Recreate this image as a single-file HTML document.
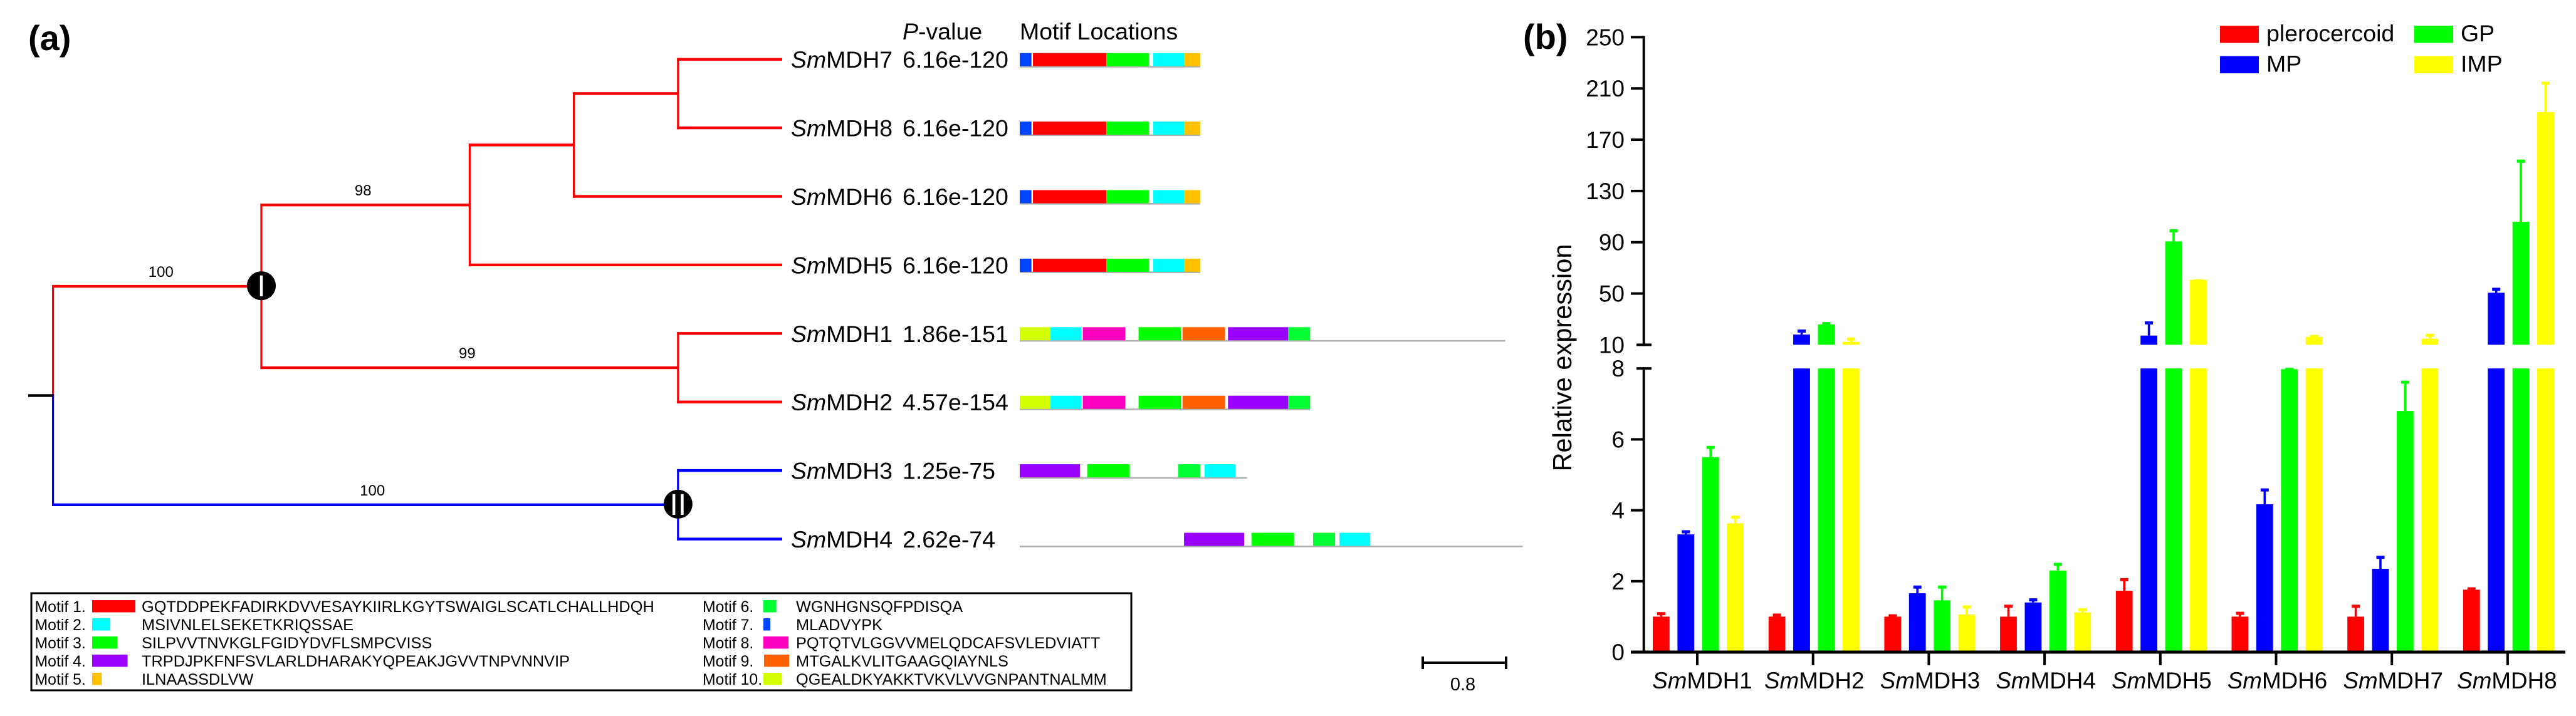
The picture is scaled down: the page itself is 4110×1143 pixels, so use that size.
<!DOCTYPE html>
<html lang="en">
<head>
<meta charset="utf-8">
<title>SmMDH phylogeny, motifs and relative expression</title>
<style>
html,body{margin:0;padding:0;background:#fff;}
svg{display:block;font-family:"Liberation Sans",sans-serif;}
</style>
</head>
<body>
<svg id="fig" xmlns="http://www.w3.org/2000/svg" width="4110" height="1143" viewBox="0 0 4110 1143">
  <rect x="0" y="0" width="4110" height="1143" fill="#fff"/>
  <text x="45" y="80" font-size="56" font-weight="bold">(a)</text>
  <text x="2430" y="78" font-size="56" font-weight="bold">(b)</text>
  <text x="1440" y="63" font-size="37.5"><tspan font-style="italic">P</tspan>-value</text>
  <text x="1627" y="63" font-size="37.5">Motif Locations</text>
  <rect x="50" y="947" width="1755" height="155" fill="none" stroke="#000" stroke-width="3"/>
  <g>
    <rect x="2270" y="1056" width="134" height="4" fill="#000"/>
    <rect x="2268" y="1048" width="4" height="20" fill="#000"/>
    <rect x="2401" y="1048" width="4" height="20" fill="#000"/>
    <text x="2334" y="1102" font-size="29" text-anchor="middle">0.8</text>
  </g>
  <text transform="translate(2507 571) rotate(-90)" font-size="41.6" text-anchor="middle">Relative expression</text>
  <g id="tree"></g>
  <g id="motifs"></g>
  <g id="motifLegend"></g>
  <g id="chart"></g>
  <g id="legend"></g>
</svg>
<script>
// ---------- Phylogeny data ----------
const taxonOrder = ['SmMDH7','SmMDH8','SmMDH6','SmMDH5','SmMDH1','SmMDH2','SmMDH3','SmMDH4'];
const taxonNumbers = ['7','8','6','5','1','2','3','4'];
const pValues = ['6.16e-120','6.16e-120','6.16e-120','6.16e-120','1.86e-151','4.57e-154','1.25e-75','2.62e-74'];
const treeData = {depth:0, kids:[
  {depth:2, color:'#ff0000', support:'100', nudge:6, mark:'I', kids:[
    {depth:4, support:'98', nudge:-4, kids:[
      {depth:5, kids:[
        {depth:6, kids:[{leaf:0},{leaf:1}]},
        {leaf:2}]},
      {leaf:3}]},
    {depth:6, support:'99', nudge:-4, kids:[{leaf:4},{leaf:5}]}]},
  {depth:6, color:'#0000ff', support:'100', nudge:11, mark:'II', kids:[{leaf:6},{leaf:7}]}
]};
const leafDepth = 7;

// ---------- Motif data (positions in residues) ----------
const motifColors = ['#ff0000','#00ffff','#00ff00','#9900ff','#ffc000','#00ff33','#0044ff','#ff00c0','#ff6000','#d4ff00'];
const motifLengths = [50,21,29,41,11,15,8,29,29,21];
const motifSequences = ['GQTDDPEKFADIRKDVVESAYKIIRLKGYTSWAIGLSCATLCHALLHDQH','MSIVNLELSEKETKRIQSSAE','SILPVVTNVKGLFGIDYDVFLSMPCVISS','TRPDJPKFNFSVLARLDHARAKYQPEAKJGVVTNPVNNVIP','ILNAASSDLVW','WGNHGNSQFPDISQA','MLADVYPK','PQTQTVLGGVVMELQDCAFSVLEDVIATT','MTGALKVLITGAAGQIAYNLS','QGEALDKYAKKTVKVLVVGNPANTNALMM'];
const proteinLengths = [123,123,123,123,331,198,155,343];
const motifOrder = [[7,1,3,2,5],[7,1,3,2,5],[7,1,3,2,5],[7,1,3,2,5],[10,2,8,3,9,4,6],[10,2,8,3,9,4,6],[4,3,6,2],[4,3,6,2]];
const motifStarts = [[0,9,59,91,112],[0,9,59,91,112],[0,9,59,91,112],[0,9,59,91,112],[0,21,43,81,111,142,183],[0,21,43,81,111,142,183],[0,46,108,126],[112,158,200,218]];

// ---------- Bar chart data ----------
const geneNumbers = ['1','2','3','4','5','6','7','8'];
const seriesNames = ['plerocercoid','MP','GP','IMP'];
const seriesColors = ['#ff0000','#0000ff','#00ff00','#ffff00'];
const plerocercoid = [1,1,1,1,1.73,1,1,1.76];
const plerocercoidTop = [1.11,1.07,1.05,1.32,2.07,1.12,1.32,1.81];
const mp = [3.32,18,1.66,1.4,17.2,4.17,2.35,50.6];
const mpTop = [3.42,21.4,1.86,1.5,27.8,4.6,2.7,54];
const gp = [5.5,25.9,1.46,2.3,90.7,7.98,6.8,106];
const gpTop = [5.8,27.2,1.86,2.5,99.7,8,7.64,154];
const imp = [3.63,12.3,1.06,1.12,60.7,16.2,14.8,191.6];
const impTop = [3.83,15.2,1.3,1.22,60.7,17.2,18.1,214.8];
const lowerTicks = [0,2,4,6,8];
const upperTicks = [10,50,90,130,170,210,250];

// ---------- Helpers ----------
const NS = 'http://www.w3.org/2000/svg';
function make(parent, tag, props, text){
  const el = document.createElementNS(NS, tag);
  for(const k in props){ el.setAttribute(k, props[k]); }
  if(text !== undefined){ el.textContent = text; }
  parent.appendChild(el);
  return el;
}
function geneLabel(parent, x, y, size, anchor, number){
  const t = make(parent, 'text', {x:x, y:y, 'font-size':size, 'text-anchor':anchor});
  const s = make(t, 'tspan', {'font-style':'italic'}, 'Sm');
  
  
  const r = make(t, 'tspan', {}, 'MDH' + number);
  
  
  return t;
}

// ---------- Tree ----------
const treeG = document.getElementById('tree');
const depthX = d => 84.6 + 166.2 * d;
const leafY = i => 94.7 + 109.4 * i;
function hBranch(x1, x2, y, color){
  const r = make(treeG, 'rect', {x:x1 - 1.6, y:y - 2.2, width:x2 - x1 + 1.6, height:4.4, fill:color});
  
  
}
function vBranch(x, y1, y2, color){
  const r = make(treeG, 'rect', {x:x - 1.6, y:y1 - 2.2, width:3.2, height:y2 - y1 + 4.4, fill:color});
  
  
}
const markers = [];
function layout(node, parentX, inherited){
  const color = node.color || inherited;
  if(node.leaf !== undefined){
    const y = leafY(node.leaf);
    hBranch(parentX, depthX(leafDepth), y, color);
    return y;
  }
  const x = depthX(node.depth);
  const ys = node.kids.map(k => layout(k, x, color));
  const y = (ys[0] + ys[ys.length - 1]) / 2;
  if(parentX !== null){
    hBranch(parentX, x, y, color);
    if(node.support){
      const lab = make(treeG, 'text', {x:(parentX + x) / 2 + (node.nudge || 0), y:y - 15, 'font-size':24, 'text-anchor':'middle'}, node.support);
      
      
    }
  }
  node.kids.forEach((k, i) => {
    const c = k.color || color;
    const top = Math.min(ys[i], y), bot = Math.max(ys[i], y);
    vBranch(x, top, bot, c);
  });
  if(node.mark){ markers.push({x:x, y:y, mark:node.mark}); }
  return y;
}
const rootY = layout(treeData, null, '#000');
const rootStub = make(treeG, 'rect', {x:45, y:rootY - 2.2, width:depthX(0) - 45, height:4.4, fill:'#000'});


markers.forEach(m => {
  const c = make(treeG, 'circle', {cx:m.x, cy:m.y - 1, r:23, fill:'#000'});
  
  
  const t = make(treeG, 'text', {x:m.x, y:m.y + 16, 'font-size':48, fill:'#fff', 'text-anchor':'middle'}, m.mark);
  
  
});
taxonOrder.forEach((name, i) => {
  const y = leafY(i);
  const t = geneLabel(treeG, 1262, y + 13.5, 37.4, 'start', taxonNumbers[i]);
  
  
  const p = make(treeG, 'text', {x:1440, y:y + 13.5, 'font-size':37.5}, pValues[i]);
  
  
});

// ---------- Motif tracks ----------
const motifG = document.getElementById('motifs');
const aaX = aa => 1627 + 2.34 * aa;
taxonOrder.forEach((name, i) => {
  const y = leafY(i);
  const line = make(motifG, 'rect', {x:aaX(0), y:y + 10.5, width:aaX(proteinLengths[i]) - aaX(0), height:2.6, fill:'#b0b0b0'});
  
  
  motifOrder[i].forEach((m, j) => {
    const s = motifStarts[i][j];
    const r = make(motifG, 'rect', {x:aaX(s), y:y - 10, width:2.34 * motifLengths[m - 1], height:21, fill:motifColors[m - 1]});
    
    
  });
});

// ---------- Motif legend ----------
const mlG = document.getElementById('motifLegend');
const rowY = [968, 997, 1026, 1055, 1084];
motifSequences.forEach((seq, i) => {
  const col = i < 5 ? 0 : 1;
  const row = i % 5;
  const labelX = col ? 1121 : 55.5;
  const swatchX = col ? (i === 8 ? 1219 : 1218) : 147;
  const seqX = col ? 1270 : 226;
  const y = rowY[row];
  const a = make(mlG, 'text', {x:labelX, y:y + 9, 'font-size':24.8}, 'Motif ' + (i + 1) + '.');
  
  
  const b = make(mlG, 'rect', {x:swatchX, y:y - 10, width:motifLengths[i] * 1.38, height:19.5, fill:motifColors[i]});
  
  
  const c = make(mlG, 'text', {x:seqX, y:y + 9, 'font-size':25.35}, seq);
  
  
});

// ---------- Bar chart ----------
const chartG = document.getElementById('chart');
const yLow = v => 1041 - 56.6 * v;
const yHigh = v => 550.4 - 2.046 * (v - 10);
const groupX = i => 2708 + 184.7 * i;
const barX = (g, s) => groupX(g) + 1.5 + (s - 1.5) * 39.4;
const allMeans = [plerocercoid, mp, gp, imp];
const allTops = [plerocercoidTop, mpTop, gpTop, impTop];
const barW = 26.8;
const capW = 13;
allMeans.forEach((vals, s) => {
  const color = seriesColors[s];
  vals.forEach((v, g) => {
    const cx = barX(g, s);
    const top = allTops[s][g];
    const yOf = val => val > 8 ? yHigh(Math.max(val, 10)) : yLow(val);
    const seg = (y1, y2) => {
      const r = make(chartG, 'rect', {x:cx - barW / 2, y:y1, width:barW, height:Math.max(y2 - y1, 0), fill:color});
      
      
    };
    if(v > 8){
      seg(yLow(8), yLow(0));
      seg(yHigh(v), yHigh(10));
    } else {
      seg(yLow(v), yLow(0));
    }
    const yv = yOf(v);
    const yt = yOf(top);
    const stem = make(chartG, 'rect', {x:cx - 1.8, y:yt, width:3.6, height:Math.max(yv - yt, 0), fill:color});
    
    
    const cap = make(chartG, 'rect', {x:cx - capW / 2, y:yt - 1, width:capW, height:5, fill:color});
    
    
  });
});
const upperAxis = make(chartG, 'rect', {x:2620.7, y:yHigh(250) - 2, width:4, height:yHigh(10) - yHigh(250) + 4, fill:'#000'});


const lowerAxis = make(chartG, 'rect', {x:2620.7, y:yLow(8) - 2, width:4, height:yLow(0) - yLow(8) + 4, fill:'#000'});


const xAxis = make(chartG, 'rect', {x:2602, y:yLow(0) - 2.5, width:1491, height:5, fill:'#000'});


function yTick(y, v, isBreak){
  const x1 = isBreak ? 2611 : 2602;
  const x2 = isBreak ? 2635 : 2622;
  const r = make(chartG, 'rect', {x:x1, y:y - 2, width:x2 - x1, height:4, fill:'#000'});
  
  
  const t = make(chartG, 'text', {x:2592, y:y + 13, 'font-size':37, 'text-anchor':'end'}, String(v));
  
  
}
lowerTicks.forEach(v => yTick(yLow(v), v, v === 8));
upperTicks.forEach(v => yTick(yHigh(v), v, v === 10));
geneNumbers.forEach((n, i) => {
  const r = make(chartG, 'rect', {x:groupX(i) - 2, y:yLow(0), width:4, height:21, fill:'#000'});
  
  
  const labelNudge = i === 0 ? 8 : (i === 7 ? -1 : 2);
  const t = geneLabel(chartG, groupX(i) + labelNudge, 1099, 36.8, 'middle', n);
  
  
});

// ---------- Chart legend ----------
const legG = document.getElementById('legend');
const legendSwatchX = [3542, 3542, 3852, 3852];
const legendRowY = [41, 89.5, 41, 89.5];
const legendOrder = [0, 1, 2, 3];
legendOrder.forEach((s, i) => {
  const r = make(legG, 'rect', {x:legendSwatchX[i], y:legendRowY[i], width:62, height:27.5, fill:seriesColors[s]});
  
  
  const t = make(legG, 'text', {x:legendSwatchX[i] + 74, y:legendRowY[i] + 25, 'font-size':37.5}, seriesNames[s]);
  
  
});
</script>
</body>
</html>
